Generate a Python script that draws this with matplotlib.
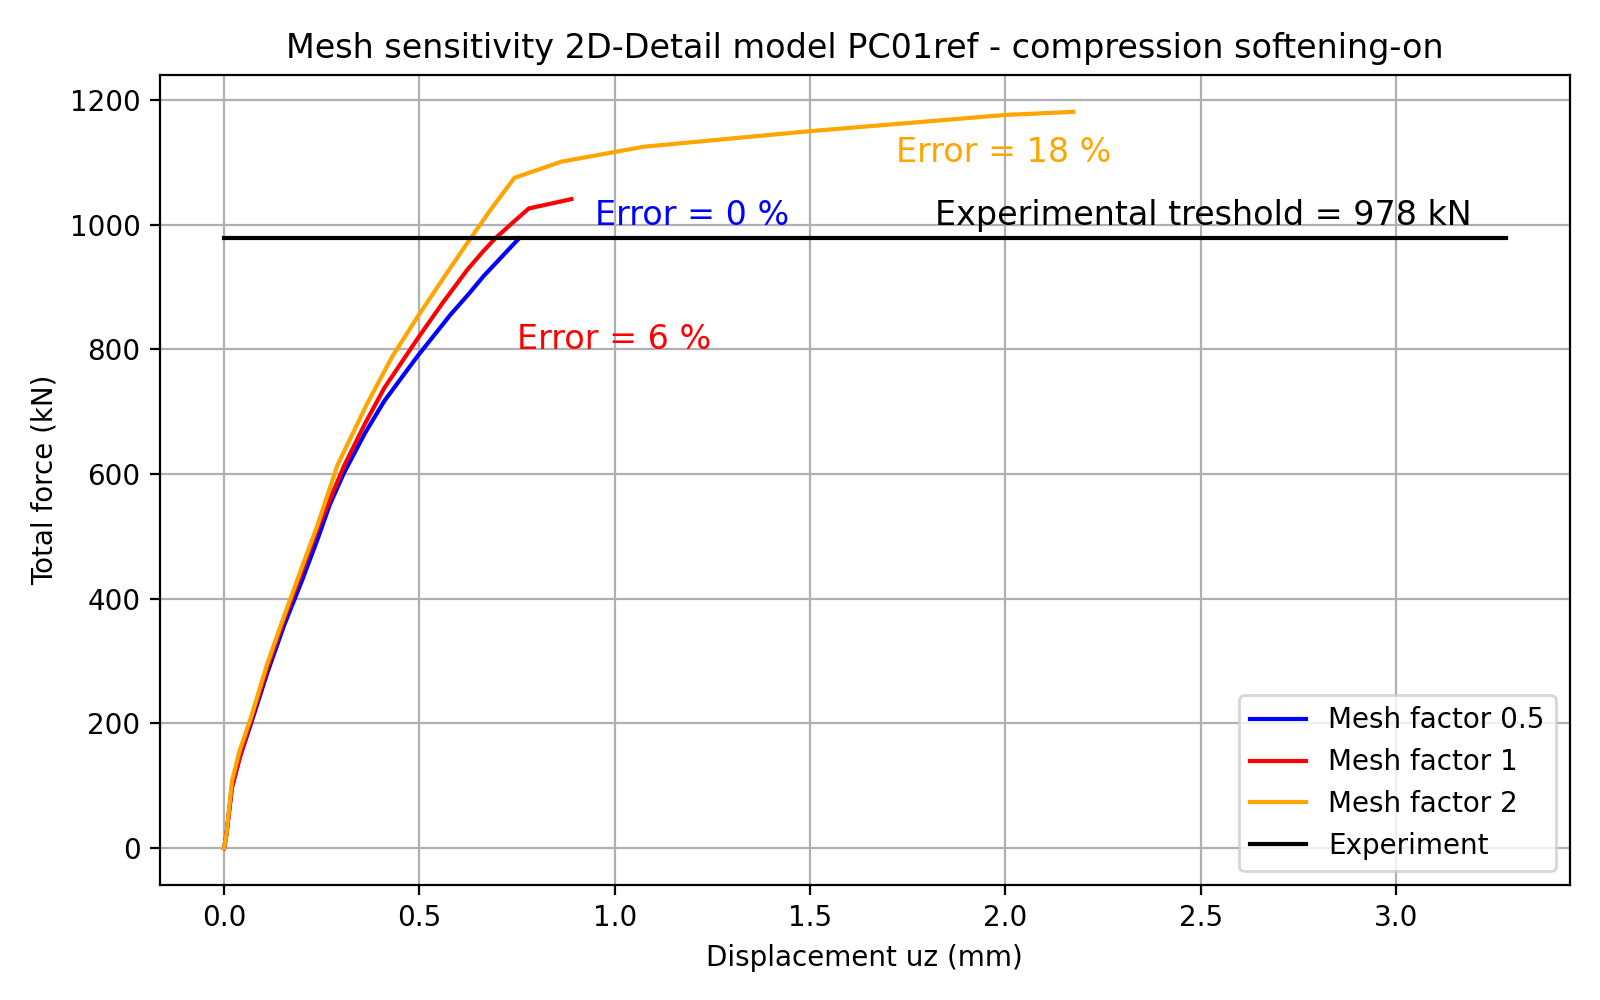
import matplotlib
matplotlib.use("Agg")
import matplotlib.pyplot as plt

# Mesh factor 0.5
disp_05 = [0, 0.006, 0.02, 0.04, 0.069, 0.11, 0.154, 0.2, 0.239, 0.27, 0.307, 0.36, 0.41, 0.495, 0.58, 0.625, 0.665, 0.71, 0.755]
force_05 = [0, 22, 97, 145, 200, 280, 358, 430, 495, 550, 602, 665, 717, 789, 856, 888, 918, 948, 978]

# Mesh factor 1
disp_1 = [0, 0.006, 0.02, 0.04, 0.069, 0.11, 0.154, 0.2, 0.239, 0.307, 0.36, 0.41, 0.495, 0.56, 0.623, 0.66, 0.694, 0.733, 0.78, 0.889]
force_1 = [0, 22, 97, 146, 205, 288, 368, 445, 512, 613, 680, 738, 817, 875, 928, 955, 978, 1000, 1026, 1041]

# Mesh factor 2
disp_2 = [0, 0.006, 0.02, 0.039, 0.069, 0.11, 0.154, 0.2, 0.239, 0.29, 0.367, 0.43, 0.495, 0.56, 0.622, 0.68, 0.743, 0.863, 1.074, 1.5, 2.0, 2.174]
force_2 = [0, 22, 107, 155, 210, 295, 373, 452, 518, 614, 714, 788, 852, 913, 970, 1022, 1075, 1101, 1125, 1150, 1176, 1181]

# Experiment threshold
disp_exp = [0, 3.28]
force_exp = [978, 978]

fig, ax = plt.subplots(figsize=(8, 5), dpi=200)
ax.plot(disp_05, force_05, color="blue", label="Mesh factor 0.5")
ax.plot(disp_1, force_1, color="red", label="Mesh factor 1")
ax.plot(disp_2, force_2, color="orange", label="Mesh factor 2")
ax.plot(disp_exp, force_exp, color="black", label="Experiment")

ax.text(0.95, 1000, "Error = 0 %", color="blue", fontsize=12)
ax.text(0.75, 800, "Error = 6 %", color="red", fontsize=12)
ax.text(1.72, 1100, "Error = 18 %", color="orange", fontsize=12)
ax.text(1.82, 1000, "Experimental treshold = 978 kN", color="black", fontsize=12)

ax.set_xlabel("Displacement uz (mm)")
ax.set_ylabel("Total force (kN)")
ax.set_title("Mesh sensitivity 2D-Detail model PC01ref - compression softening-on")
ax.grid(True)
ax.legend(loc="lower right")
plt.subplots_adjust(left=0.1, right=0.981, top=0.925, bottom=0.115)
plt.savefig("out.png")
